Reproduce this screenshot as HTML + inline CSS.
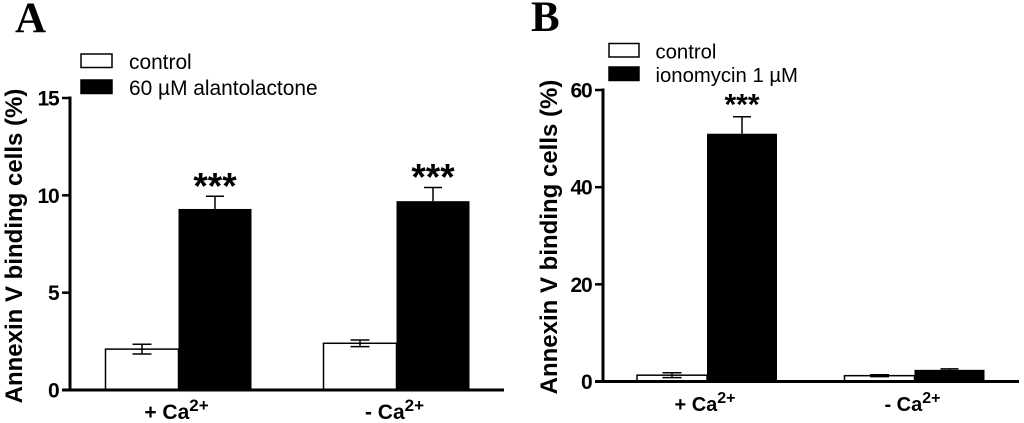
<!DOCTYPE html>
<html>
<head>
<meta charset="utf-8">
<style>
html,body{margin:0;padding:0;background:#fff;width:1024px;height:423px;overflow:hidden}
svg{display:block}
text{font-family:"Liberation Sans",sans-serif;fill:#000}
</style>
</head>
<body>
<svg id="chart" width="1024" height="423" viewBox="0 0 1024 423" xmlns="http://www.w3.org/2000/svg"></svg>
<script>
var groupLabels = ["+ Ca", "- Ca"];
var groupSuper = "2+";
var ticksA = [0, 5, 10, 15];
var controlA = [2.1, 2.4];
var controlErrA = [0.25, 0.17];
var treatedA = [9.3, 9.7];
var treatedErrA = [0.65, 0.7];
var sigA = ["***", "***"];
var legendA = ["control", "60 µM alantolactone"];
var ticksB = [0, 20, 40, 60];
var controlB = [1.3, 1.2];
var controlErrB = [0.5, 0.2];
var treatedB = [51, 2.4];
var treatedErrB = [3.5, 0.2];
var sigB = ["***", ""];
var legendB = ["control", "ionomycin 1 µM"];

var svg = document.getElementById('chart');
var NS = 'http://www.w3.org/2000/svg';

function make(tag, attrs, parent) {
  var el = document.createElementNS(NS, tag);
  for (var k in attrs) el.setAttribute(k, attrs[k]);
  parent.appendChild(el);
  return el;
}
function line(p, x1, y1, x2, y2, w) {
  return make('line', {x1: x1, y1: y1, x2: x2, y2: y2, stroke: '#000', 'stroke-width': w}, p);
}
function errorBar(p, x, yFn, value, err, capHalf, both) {
  var g = make('g', {}, p);
  
  
  var top = yFn(value + err);
  var bottom = both ? yFn(value - err) : yFn(value);
  line(g, x, top, x, bottom, 1.5);
  line(g, x - capHalf, top, x + capHalf, top, 1.5);
  if (both) line(g, x - capHalf, bottom, x + capHalf, bottom, 1.5);
}

function panel(cfg) {
  var g = make('g', {}, svg);
  
  
  var maxTick = cfg.ticks[cfg.ticks.length - 1];
  function y(v) { return cfg.y0 - (cfg.y0 - cfg.yTop) * v / maxTick; }

  var letter = make('text', {x: cfg.letterX, y: cfg.letterY, 'font-size': 43, 'font-weight': 'bold', style: 'font-family:"Liberation Serif",serif'}, g);
  
  
  letter.textContent = cfg.letter;

  for (var s = 0; s < cfg.groupX.length; s++) {
    var cx = cfg.groupX[s];
    var cv = cfg.control[s], tv = cfg.treated[s];
    var c = make('rect', {x: cx - cfg.barW, y: y(cv), width: cfg.barW, height: cfg.y0 - y(cv), fill: '#fff', stroke: '#000', 'stroke-width': 1.5}, g);
    
    
    errorBar(g, cx - cfg.barW / 2, y, cv, cfg.controlErr[s], 9.5, true);
    errorBar(g, cx + cfg.barW / 2, y, tv, cfg.treatedErr[s], 9, false);
    var t = make('rect', {x: cx, y: y(tv), width: cfg.barW, height: cfg.y0 - y(tv), fill: '#000'}, g);
    
    
    if (cfg.sig[s]) {
      var st = make('text', {x: cx + cfg.barW / 2, y: y(tv + cfg.treatedErr[s]) - cfg.sigGap, 'text-anchor': 'middle', 'font-size': cfg.sigSize, 'font-weight': 'bold'}, g);
      
      
      st.textContent = cfg.sig[s];
    }
    var lab = make('text', {x: cx + cfg.catShift, y: cfg.catY, 'text-anchor': 'middle', 'font-size': cfg.catSize, 'font-weight': 'bold'}, g);
    
    
    lab.appendChild(document.createTextNode(groupLabels[s]));
    var sup = make('tspan', {dy: -8, 'font-size': cfg.catSize - 4}, lab);
    sup.textContent = groupSuper;
  }

  var axisY = make('g', {}, g);
  
  
  line(axisY, cfg.axisX, cfg.yTop - 1.5, cfg.axisX, cfg.y0 + 1.5, 3);
  cfg.ticks.forEach(function (tk) {
    line(axisY, cfg.axisX - 8, y(tk), cfg.axisX, y(tk), 2.5);
    var tl = make('text', {x: cfg.axisX - 11.5, y: y(tk) + 7.5, 'text-anchor': 'end', 'font-size': 21, 'font-weight': 'bold', 'letter-spacing': '-1.2'}, axisY);
    
    
    tl.textContent = tk;
  });
  var axisX = line(g, cfg.axisX - 8, cfg.y0, cfg.axisEnd, cfg.y0, 3);
  
  

  var title = make('text', {transform: 'translate(' + cfg.titleX + ',' + cfg.titleY + ') rotate(-90)', 'text-anchor': 'middle', 'font-size': 24, 'font-weight': 'bold'}, g);
  
  
  title.textContent = 'Annexin V binding cells (%)';

  for (var i = 0; i < 2; i++) {
    var ly = cfg.legY + i * cfg.legStep;
    var sw = make('rect', {x: cfg.legX, y: ly - 7, width: cfg.legW, height: 13.5, fill: i ? '#000' : '#fff', stroke: '#000', 'stroke-width': 1.5}, g);
    
    
    var lt = make('text', {x: cfg.legTextX, y: ly + 8, 'font-size': cfg.legSize}, g);
    
    
    lt.textContent = cfg.legend[i];
  }
}

panel({
  name: 'panel-a', letter: 'A', letterX: 15, letterY: 32,
  ticks: ticksA, control: controlA, controlErr: controlErrA, treated: treatedA, treatedErr: treatedErrA, sig: sigA, legend: legendA,
  y0: 390, yTop: 98, axisX: 70, axisEnd: 504, groupX: [178.5, 396.5], barW: 73, catY: 419, catSize: 21, catShift: -2,
  titleX: 22, titleY: 246, legX: 81, legW: 31, legY: 61, legStep: 26, legTextX: 129, legSize: 20.9, sigGap: -2, sigSize: 37
});
panel({
  name: 'panel-b', letter: 'B', letterX: 531, letterY: 31,
  ticks: ticksB, control: controlB, controlErr: controlErrB, treated: treatedB, treatedErr: treatedErrB, sig: sigB, legend: legendB,
  y0: 381.5, yTop: 90, axisX: 603, axisEnd: 1019, groupX: [707, 914.5], barW: 70, catY: 411, catSize: 20, catShift: -2,
  titleX: 557, titleY: 237, legX: 609, legW: 30, legY: 50.5, legStep: 23.5, legTextX: 655.5, legSize: 20.3, sigGap: 2, sigSize: 30
});
</script>
</body>
</html>
